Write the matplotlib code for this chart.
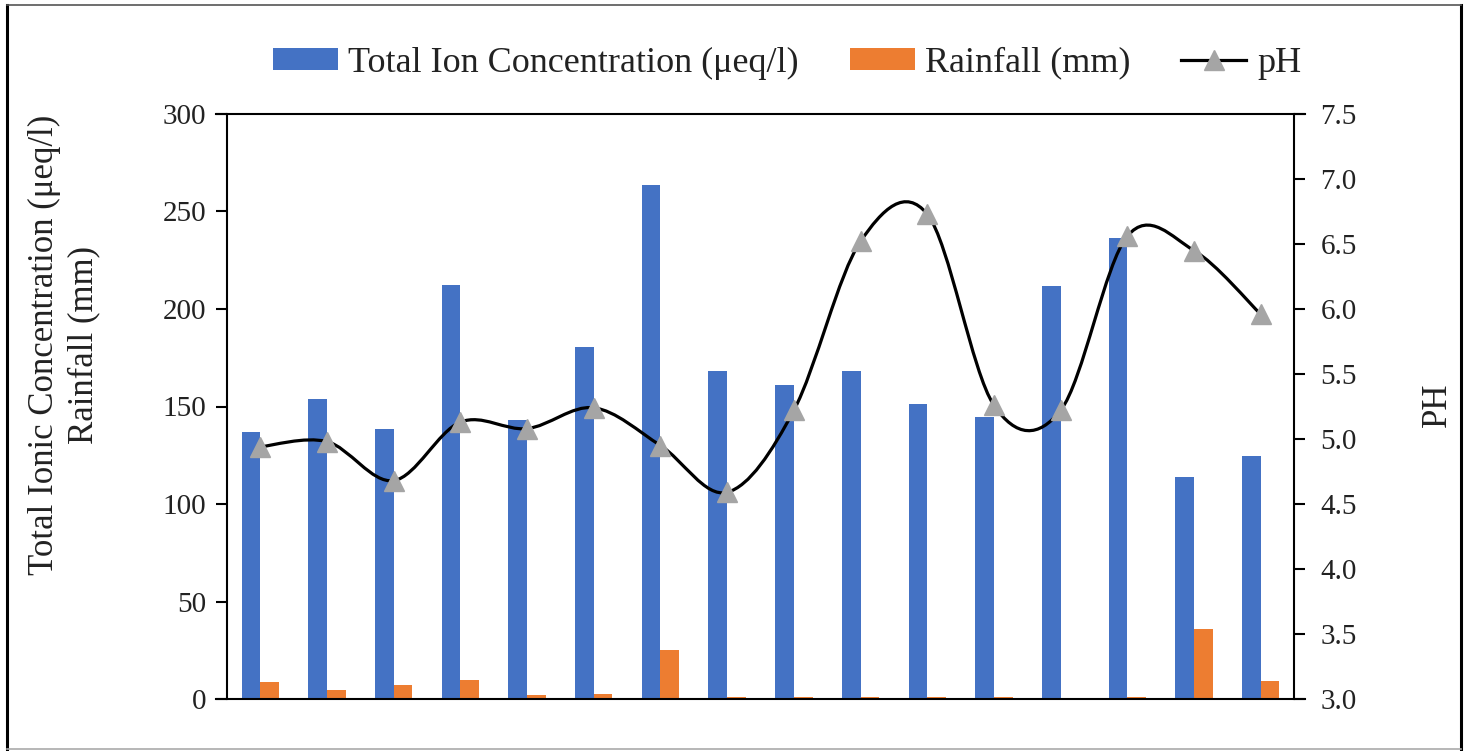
import matplotlib
matplotlib.use("Agg")
import matplotlib.pyplot as plt
import numpy as np
from matplotlib.path import Path
from matplotlib.patches import PathPatch, Patch
from matplotlib.lines import Line2D

plt.rcParams['font.family'] = ['Liberation Serif', 'DejaVu Serif']

# Sampling events (16 rain events)
events = list(range(1, 17))
total_ion = [137, 153.6, 138.4, 212.4, 143, 180.6, 263.6, 168,
             161, 168, 151.4, 144.6, 211.6, 236.6, 113.6, 124.6]
rainfall = [8.6, 4.4, 7.2, 10, 1.8, 2.4, 25, 1,
            1, 1, 1, 1, 0, 1, 36, 9.2]
ph = [4.94, 4.98, 4.68, 5.13, 5.08, 5.24, 4.95, 4.59,
      5.22, 6.52, 6.73, 5.26, 5.22, 6.56, 6.45, 5.96]

left_ticks = [0, 50, 100, 150, 200, 250, 300]
right_ticks = [3.0, 3.5, 4.0, 4.5, 5.0, 5.5, 6.0, 6.5, 7.0, 7.5]

BLUE = '#4472C4'
ORANGE = '#ED7D31'
GRAY = '#A5A5A5'
TEXT = '#222222'

W, H = 1470, 751
fig = plt.figure(figsize=(W / 100, H / 100), dpi=100)
ax = fig.add_axes([227 / W, 1 - 699 / H, (1294 - 227) / W, (699 - 114) / H])
ax2 = ax.twinx()

x = np.arange(len(events))
bw = 0.28
ax.bar(x - bw / 2, total_ion, width=bw, color=BLUE, edgecolor='none', zorder=2)
ax.bar(x + bw / 2, rainfall, width=bw, color=ORANGE, edgecolor='none', zorder=2)

ax.set_xlim(-0.5, len(events) - 0.5)
ax.set_ylim(0, 300)
ax.set_yticks(left_ticks)
ax.set_xticks([])
ax2.set_ylim(3.0, 7.5)
ax2.set_yticks(right_ticks)
ax2.set_yticklabels([f"{v:.1f}" for v in right_ticks])

# Smoothed pH line: cubic Bezier segments through the data points (Catmull-Rom)
px = np.asarray(x, dtype=float)
py = np.asarray(ph, dtype=float)
n = len(px)
verts = [(px[0], py[0])]
codes = [Path.MOVETO]
for i in range(n - 1):
    p0 = np.array([px[max(i - 1, 0)], py[max(i - 1, 0)]])
    p1 = np.array([px[i], py[i]])
    p2 = np.array([px[i + 1], py[i + 1]])
    p3 = np.array([px[min(i + 2, n - 1)], py[min(i + 2, n - 1)]])
    c1 = p1 + (p2 - p0) / 6
    c2 = p2 - (p3 - p1) / 6
    verts += [tuple(c1), tuple(c2), tuple(p2)]
    codes += [Path.CURVE4] * 3
ax2.add_patch(PathPatch(Path(verts, codes), facecolor='none', edgecolor='black',
                        linewidth=2.3, zorder=3))
ax2.plot(px, py, linestyle='none', marker='^', markersize=15, color=GRAY, zorder=4)

# Axes styling
for a in (ax, ax2):
    for s in ('top', 'bottom'):
        a.spines[s].set_visible(False)
ax.spines['left'].set_linewidth(1.5)
ax.spines['right'].set_visible(False)
ax2.spines['left'].set_visible(False)
ax2.spines['right'].set_linewidth(1.5)
ext = 11 / (1294 - 227)
for yy in (0, 1):
    ax.plot([-ext, 1 + ext], [yy, yy], transform=ax.transAxes, color='black',
            linewidth=1.5, clip_on=False, zorder=5)

ax.tick_params(axis='y', direction='out', length=8, width=1.5, labelsize=21, pad=7,
               colors='black', labelcolor=TEXT)
ax2.tick_params(axis='y', direction='out', length=8, width=1.5, labelsize=21, pad=11,
                colors='black', labelcolor=TEXT)

# Axis titles
fig.text(64 / W, 1 - 345 / H, "Total Ionic Concentration (μeq/l)\nRainfall (mm)",
         rotation=90, ha='center', va='center', multialignment='center',
         fontsize=25, color=TEXT, linespacing=1.25)
fig.text(1437 / W, 1 - 405 / H, "PH", rotation=90, ha='center', va='center',
         fontsize=25, color=TEXT)

# Legend
handles = [Patch(facecolor=BLUE, edgecolor='none'),
           Patch(facecolor=ORANGE, edgecolor='none'),
           Line2D([0], [0], color='black', linewidth=2.3, marker='^',
                  markersize=15, markerfacecolor=GRAY, markeredgecolor=GRAY)]
labels = ["Total Ion Concentration (μeq/l)", "Rainfall (mm)", "pH"]
fig.legend(handles, labels, loc='center', bbox_to_anchor=(787 / W, 1 - 63 / H),
           ncol=3, frameon=False, fontsize=26, handlelength=1.8, handleheight=0.55,
           handletextpad=0.3, columnspacing=1.4, labelcolor=TEXT)

# Outer frame
fig.add_artist(Line2D([7 / W, 7 / W], [1 - 5 / H, 1 - 749 / H], transform=fig.transFigure,
                      color='black', linewidth=2.2))
fig.add_artist(Line2D([1461 / W, 1461 / W], [1 - 5 / H, 1 - 749 / H], transform=fig.transFigure,
                      color='black', linewidth=2.2))
fig.add_artist(Line2D([7 / W, 1461 / W], [1 - 5 / H, 1 - 5 / H], transform=fig.transFigure,
                      color='#555555', linewidth=1.2))
fig.add_artist(Line2D([7 / W, 1461 / W], [1 - 749 / H, 1 - 749 / H], transform=fig.transFigure,
                      color='#aaaaaa', linewidth=1.2))

fig.savefig("out.png", dpi=100)
